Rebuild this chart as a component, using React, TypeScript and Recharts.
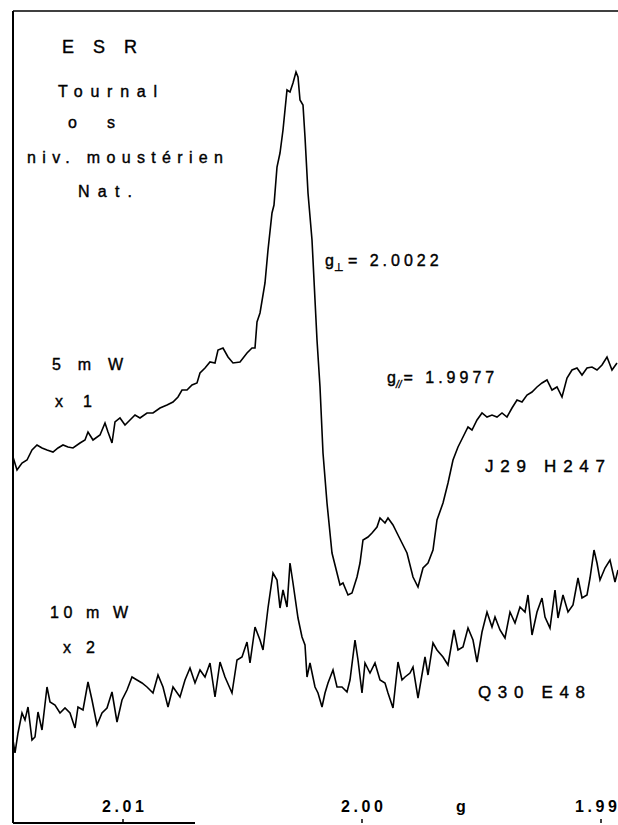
import React from "react";
import { LineChart, Line, XAxis, YAxis, ReferenceLine } from "recharts";

// sweep position along the recorder paper and pen deflection
const topSweep = [
  13, 17, 22, 27, 32, 37, 42, 47, 53, 58, 63, 68, 73, 80, 85, 88, 93, 100, 105, 108,
  112, 115, 120, 125, 130, 135, 140, 147, 153, 160, 167, 173, 178, 182, 187, 192, 197, 200, 205, 210,
  215, 218, 223, 228, 233, 240, 247, 252, 255, 257, 260, 265, 268, 272, 274, 277, 280, 283, 287, 290,
  293, 296, 298, 300, 303, 305, 308, 312, 315, 317, 320, 323, 327, 332, 337, 340, 343, 348, 352, 357,
  360, 363, 368, 372, 377, 380, 385, 388, 393, 397, 402, 407, 413, 418, 423, 428, 433, 437, 443, 448,
  453, 458, 463, 468, 472, 477, 482, 487, 492, 497, 502, 507, 512, 517, 522, 527, 532, 537, 542, 547,
  552, 557, 562, 567, 572, 577, 582, 587, 592, 597, 602, 607, 612, 617,
];
const topSignal = [
  366, 353, 360, 363, 373, 378, 375, 373, 371, 375, 378, 376, 375, 380, 383, 391, 383, 388, 400, 391,
  380, 401, 405, 398, 403, 408, 405, 410, 410, 415, 418, 421, 426, 433, 433, 438, 440, 450, 455, 461,
  460, 473, 475, 466, 460, 461, 470, 475, 475, 501, 510, 540, 573, 610, 618, 656, 670, 693, 733, 731,
  740, 751, 746, 723, 718, 686, 630, 583, 523, 483, 436, 370, 320, 270, 250, 238, 240, 228, 230, 246,
  260, 283, 286, 290, 296, 305, 300, 305, 298, 290, 280, 270, 246, 236, 255, 260, 273, 303, 320, 340,
  363, 376, 386, 396, 393, 403, 410, 406, 408, 406, 410, 406, 415, 423, 421, 428, 431, 436, 440, 443,
  433, 436, 426, 445, 453, 455, 448, 455, 456, 453, 458, 466, 453, 460,
];

const bottomSweep = [
  13, 15, 18, 22, 25, 28, 32, 35, 38, 42, 47, 50, 55, 60, 65, 70, 75, 78, 83, 88,
  92, 97, 102, 107, 112, 117, 122, 127, 132, 137, 142, 147, 153, 158, 163, 168, 173, 180, 185, 190,
  195, 200, 205, 210, 215, 220, 225, 232, 237, 242, 247, 250, 255, 260, 263, 268, 273, 277, 280, 283,
  287, 290, 293, 298, 302, 305, 307, 310, 315, 318, 322, 325, 328, 333, 337, 342, 347, 350, 355, 358,
  362, 365, 370, 375, 380, 385, 388, 393, 398, 402, 405, 410, 413, 418, 425, 428, 433, 437, 443, 448,
  454, 458, 463, 468, 473, 477, 482, 487, 492, 495, 500, 505, 510, 515, 520, 525, 528, 532, 537, 542,
  545, 550, 555, 558, 563, 568, 573, 578, 582, 587, 590, 594, 597, 600, 605, 610, 615, 618,
];
const bottomSignal = [
  83, 70, 90, 110, 103, 116, 83, 86, 111, 93, 136, 121, 118, 110, 115, 110, 95, 116, 113, 141,
  123, 98, 110, 115, 131, 101, 123, 133, 146, 143, 140, 136, 130, 148, 136, 116, 136, 126, 143, 155,
  140, 153, 146, 160, 126, 161, 146, 130, 163, 166, 181, 160, 196, 183, 173, 215, 250, 243, 215, 233,
  216, 260, 240, 205, 186, 178, 146, 160, 136, 130, 116, 130, 140, 153, 136, 136, 131, 143, 183, 163,
  130, 160, 150, 160, 143, 140, 130, 115, 161, 143, 146, 150, 156, 125, 166, 148, 180, 173, 166, 158,
  193, 173, 176, 195, 183, 161, 191, 211, 196, 206, 193, 185, 211, 200, 216, 211, 228, 188, 211, 225,
  206, 195, 233, 205, 228, 211, 218, 245, 225, 228, 245, 273, 260, 243, 255, 263, 241, 253,
];

const gTicks = [123, 362, 601];
const gLabels = ["2.01", "2.00", "1.99"];

const topData = topSweep.map((sweep, i) => ({ sweep, signal: topSignal[i] }));
const bottomData = bottomSweep.map((sweep, i) => ({ sweep, signal: bottomSignal[i] }));

const FONT = "'Liberation Sans', Arial, Helvetica, sans-serif";

const GTick = (props: any) => {
  const { x, y, payload } = props;
  const label = gLabels[gTicks.indexOf(payload.value)];
  // keep the last label inside the paper edge
  const cx = Math.min(x, 596);
  return (
    <g>
      <line x1={x} x2={x} y1={y - 4} y2={y} stroke="#000" strokeWidth={1.5} />
      <text
        x={cx}
        y={y - 11}
        textAnchor="middle"
        fontFamily={FONT}
        fontWeight="bold"
        fontSize={16}
        fill="#000"
        textLength={42}
        lengthAdjust="spacing"
      >
        {label}
      </text>
    </g>
  );
};

const Note = ({ x, y, w, size = 16, children }: any) => (
  <text
    x={x}
    y={y}
    fontFamily={FONT}
    fontSize={size}
    fill="#000"
    stroke="#000"
    strokeWidth={0.4}
    textLength={w}
    lengthAdjust="spacing"
  >
    {children}
  </text>
);

export default function App() {
  return (
    <div style={{ position: "absolute", left: 0, top: 0, width: 618, height: 825, background: "#fff" }}>
      <LineChart width={618} height={825} margin={{ top: 11, right: 0, left: 13, bottom: 0 }}>
        <XAxis
          type="number"
          dataKey="sweep"
          domain={[13, 618]}
          ticks={gTicks}
          tick={<GTick />}
          tickSize={0}
          tickMargin={0}
          tickLine={false}
          axisLine={false}
          height={2}
          allowDataOverflow
        />
        <YAxis type="number" domain={[0, 812]} hide allowDataOverflow />
        <ReferenceLine x={13} stroke="#000" strokeWidth={2} />
        <ReferenceLine y={812} stroke="#000" strokeWidth={1.5} />
        <ReferenceLine
          segment={[
            { x: 13, y: 0 },
            { x: 195, y: 0 },
          ]}
          stroke="#000"
          strokeWidth={2}
        />
        <Line
          data={topData}
          dataKey="signal"
          type="linear"
          stroke="#000"
          strokeWidth={1.6}
          dot={false}
          isAnimationActive={false}
        />
        <Line
          data={bottomData}
          dataKey="signal"
          type="linear"
          stroke="#000"
          strokeWidth={1.6}
          dot={false}
          isAnimationActive={false}
        />
      </LineChart>
      <svg
        width={618}
        height={825}
        style={{ position: "absolute", left: 0, top: 0, pointerEvents: "none" }}
      >
        <Note x={62} y={53} w={75} size={18}>E S R</Note>
        <Note x={58} y={97} w={99}>Tournal</Note>
        <Note x={68} y={128} w={47}>os</Note>
        <Note x={27} y={163} w={196}>niv. moustérien</Note>
        <Note x={78} y={197} w={54}>Nat.</Note>
        <text x={325} y={266} fontFamily={FONT} fontSize={16} fill="#000" stroke="#000" strokeWidth={0.4}>
          g
          <tspan fontSize={11} dy={5}>⊥</tspan>
          <tspan dy={-5} dx={4} letterSpacing={4}>= 2.0022</tspan>
        </text>
        <text x={387} y={383} fontFamily={FONT} fontSize={16} fill="#000" stroke="#000" strokeWidth={0.4}>
          g
          <tspan fontSize={10} dy={5} fontStyle="italic">//</tspan>
          <tspan dy={-5} dx={2} letterSpacing={4}>= 1.9977</tspan>
        </text>
        <Note x={52} y={370} w={71}>5  m W</Note>
        <Note x={55} y={407} w={37}>x  1</Note>
        <Note x={485} y={472} w={120} size={17}>J29 H247</Note>
        <Note x={50} y={618} w={78}>10 m W</Note>
        <Note x={63} y={653} w={32}>x 2</Note>
        <Note x={478} y={698} w={107} size={17}>Q30 E48</Note>
        <text x={456} y={812} fontFamily={FONT} fontWeight="bold" fontSize={16} fill="#000">
          g
        </text>
      </svg>
    </div>
  );
}
